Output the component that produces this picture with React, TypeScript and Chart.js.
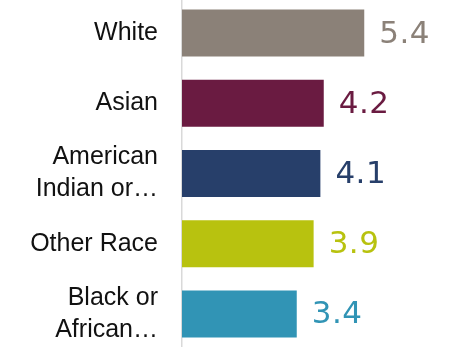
import React, { useEffect, useRef } from "react";
import { Chart, registerables } from "chart.js";

Chart.register(...registerables);

const categories: (string | string[])[] = [
  "White",
  "Asian",
  ["American", "Indian or…"],
  "Other Race",
  ["Black or", "African…"],
];
const values: number[] = [5.4, 4.2, 4.1, 3.9, 3.4];
const colors: string[] = ["#8B8178", "#6A1B41", "#273F6A", "#B8C20F", "#3194B5"];

const valueLabels = {
  id: "valueLabels",
  afterDatasetsDraw(chart: any) {
    const ctx = chart.ctx;
    const meta = chart.getDatasetMeta(0);
    ctx.save();
    ctx.font = "31px 'DejaVu Sans', sans-serif";
    (ctx as any).letterSpacing = "0.5px";
    ctx.textAlign = "left";
    ctx.textBaseline = "middle";
    meta.data.forEach((bar: any, i: number) => {
      ctx.fillStyle = colors[i];
      ctx.fillText(values[i].toFixed(1), bar.x + 15, bar.y + 1.5);
    });
    ctx.restore();
  },
};

export default function App() {
  const ref = useRef<HTMLCanvasElement | null>(null);
  useEffect(() => {
    if (!ref.current) return;
    const chart = new Chart(ref.current, {
      type: "bar",
      data: {
        labels: categories,
        datasets: [
          {
            data: values,
            backgroundColor: colors,
            borderWidth: 0,
            categoryPercentage: 1,
            barPercentage: 0.67,
          },
        ],
      },
      options: {
        indexAxis: "y",
        animation: false,
        responsive: false,
        maintainAspectRatio: false,
        devicePixelRatio: 1,
        layout: { padding: { top: 0, right: 2, bottom: 0, left: 0 } },
        plugins: {
          legend: { display: false },
          tooltip: { enabled: false },
        },
        scales: {
          x: {
            display: false,
            min: 0,
            max: 8,
          },
          y: {
            afterFit: (s: any) => {
              s.width = 182;
              s.paddingTop = 0;
              s.paddingBottom = 0;
            },
            grid: { display: false, drawTicks: false },
            border: { display: true, color: "#D9D9D9", width: 1.5 },
            ticks: {
              padding: 24,
              color: "#111111",
              font: { family: "'Liberation Sans', Arial, sans-serif", size: 25, lineHeight: 1.28 },
            },
          },
        },
      },
      plugins: [valueLabels],
    });
    return () => chart.destroy();
  }, []);
  return (
    <div style={{ position: "fixed", left: 0, top: -1.6, width: 454, height: 351 }}>
      <canvas ref={ref} width={454} height={351} style={{ width: 454, height: 351, display: "block" }} />
    </div>
  );
}
